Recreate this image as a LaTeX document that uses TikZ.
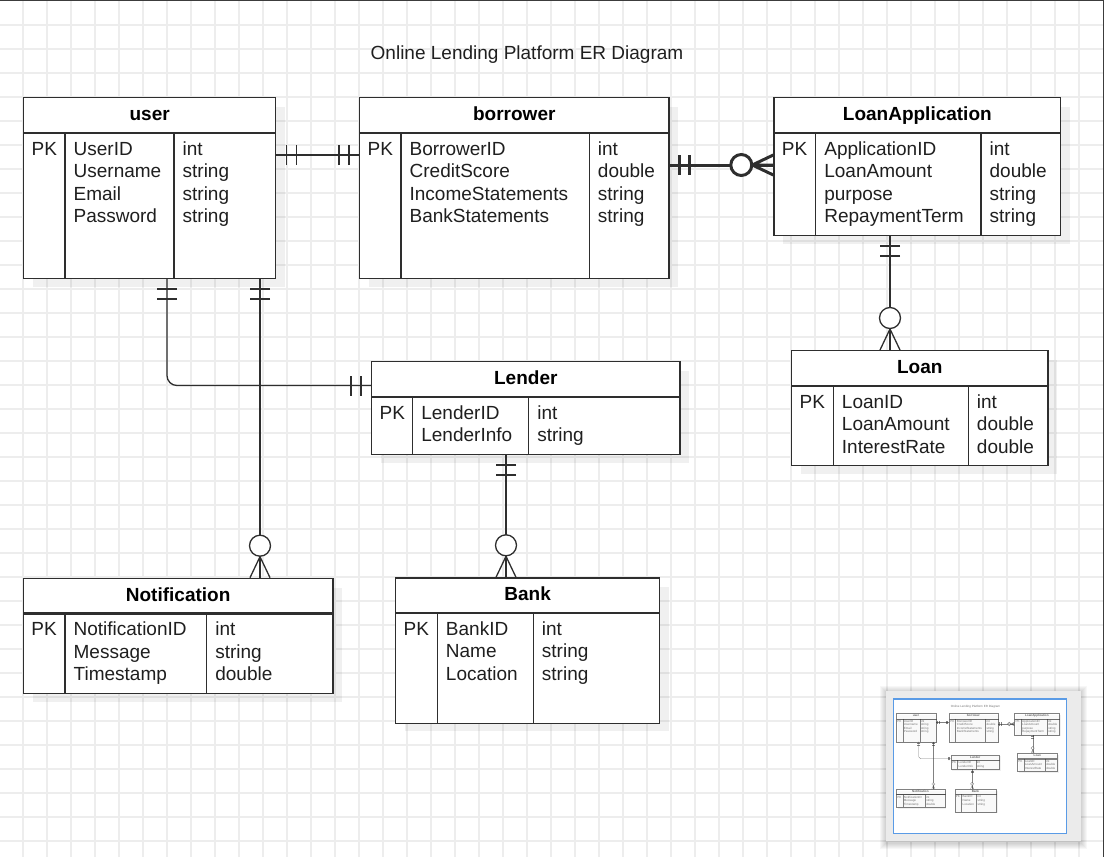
\documentclass[tikz,border=0pt]{standalone}
\usepackage{fontspec}
\setmainfont{Liberation Sans}

\definecolor{ink}{HTML}{2E2E2E}
\definecolor{txt}{HTML}{1F1F1F}
\definecolor{gridc}{HTML}{EDEDED}
\definecolor{frame}{HTML}{3C3C3C}
\definecolor{viewblue}{HTML}{5A9BE6}
\definecolor{panel}{HTML}{EBEBEB}

\newcommand{\erfont}{\fontsize{19pt}{22.5pt}\selectfont}

% entity: name, title, top left, width, body height, column 1, column 2, fields, types
\newcommand{\entity}[9]{
  \fill[ershadow] (#3) ++(10,10) rectangle ++(#4,34.5+#5);
  \node[hdr, minimum width=#4pt] (#1) at (#3) {#2};
  \node[ebody, minimum width=#4pt, minimum height=#5pt] (#1-b) at (#1.south west) {};
  \draw (#1-b.north west) ++(#6,0) -- ++(0,#5);
  \draw (#1-b.north west) ++(#7,0) -- ++(0,#5);
  \path (#1-b.north west) ++(8,22.3) node[fld] (#1-pk) {PK};
  \foreach \f [count=\i] in {#8}
    \path (#1-b.north west) ++(#6+8,22.5*\i-0.2) node[fld] (#1-f\i) {\f};
  \foreach \f [count=\i] in {#9}
    \path (#1-b.north west) ++(#7+8,22.5*\i-0.2) node[fld] (#1-t\i) {\f};
}

\tikzset{
  hdr/.style={draw, fill=white, anchor=north west, inner sep=0pt, minimum height=34.5pt,
    text height=14.5pt, text depth=3.5pt, font=\erfont\bfseries, text=black},
  ebody/.style={draw, fill=white, anchor=north west, inner sep=0pt},
  fld/.style={anchor=base west, inner sep=0pt, font=\erfont, text=txt},
  ershadow/.style={fill=black, opacity=0.06},
  % crow's foot ends, drawn from the entity edge outwards
  one/.pic={\draw (10,-10) -- (10,10) (20,-10) -- (20,10);},
  zmany/.pic={\draw (0,-10) -- (21,0) -- (0,10) (0,0) -- (21,0);
    \draw[fill=white] (32,0) circle[radius=10.5];},
  % the whole diagram, #1 = width of the heavy relation line
  lending/.pic={
    \node[font=\erfont, text=txt, anchor=base] (title) at (527,59.5) {Online Lending Platform ER Diagram};
    \entity{user}{user}{23,97}{252}{145}{42}{151}{UserID,Username,Email,Password}{int,string,string,string}
    \entity{borrower}{borrower}{359,97}{309.3}{145}{42}{230.3}{BorrowerID,CreditScore,IncomeStatements,BankStatements}{int,double,string,string}
    \entity{loanapp}{LoanApplication}{773.3,97}{286.7}{102}{42.4}{207.7}{ApplicationID,LoanAmount,purpose,RepaymentTerm}{int,double,string,string}
    \entity{loan}{Loan}{791,350}{256.3}{79}{42.3}{177.3}{LoanID,LoanAmount,InterestRate}{int,double,double}
    \entity{lender}{Lender}{371,361}{308.3}{57}{41.7}{157.7}{LenderID,LenderInfo}{int,string}
    \entity{bank}{Bank}{395,577.3}{264}{109.5}{42.3}{138.3}{BankID,Name,Location}{int,string,string}
    \entity{notif}{Notification}{22.7,577.7}{309.6}{79.4}{42.3}{184}{NotificationID,Message,Timestamp}{int,string,double}
    % relations
    \draw (user-b.east |- 0,155) -- (borrower-b.west |- 0,155);
    \pic at (user-b.east |- 0,155) {one};
    \pic[rotate=180] at (borrower-b.west |- 0,155) {one};
    \draw[line width=#1] (borrower-b.east |- 0,165) -- (loanapp-b.west |- 0,165);
    \pic[line width=#1] at (borrower-b.east |- 0,165) {one};
    \pic[line width=#1, rotate=180] at (loanapp-b.west |- 0,165) {zmany};
    \draw (loanapp-b.south -| 890,0) -- (loan.north -| 890,0);
    \pic[rotate=-90] at (loanapp-b.south -| 890,0) {one};
    \pic[rotate=90] at (loan.north -| 890,0) {zmany};
    \draw[rounded corners=3.3*#1] (user-b.south -| 167,0) |- (lender.west |- 0,385.5);
    \pic[rotate=-90] at (user-b.south -| 167,0) {one};
    \pic[rotate=180] at (lender.west |- 0,385.5) {one};
    \draw (user-b.south -| 260,0) -- (notif.north -| 260,0);
    \pic[rotate=-90] at (user-b.south -| 260,0) {one};
    \pic[rotate=90] at (notif.north -| 260,0) {zmany};
    \draw (lender-b.south -| 506,0) -- (bank.north -| 506,0);
    \pic[rotate=-90] at (lender-b.south -| 506,0) {one};
    \pic[rotate=90] at (bank.north -| 506,0) {zmany};
  }
}

\begin{document}
\begin{tikzpicture}[x=1pt, y=-1pt, line width=1.3pt, color=ink]
\useasboundingbox (0,0) rectangle (1104,857);
% page grid
\foreach \x in {23,47,...,1079} \draw[gridc, line width=1.2pt] (\x,0) -- (\x,857);
\foreach \y in {25,49,...,841} \draw[gridc, line width=1.2pt] (0,\y) -- (1104,\y);
\draw[frame, line width=1.5pt] (0,0.7) -- (1103.3,0.7) -- (1103.3,857);

\pic {lending=3pt};

% outline view
\foreach \d in {1,...,6} \fill[black, opacity=0.03] (886-\d,692-\d) rectangle (1080.7+\d,843+\d);
\fill[panel] (886,691) rectangle (1080.7,841);
\fill[white] (893.3,699) rectangle (1066.7,833.3);
\begin{scope}[shift={(892.4,698)}, scale=0.1576, transform shape, line width=0.3pt, opacity=0.6]
  \pic (mini-) {lending=0.6pt};
\end{scope}
\draw[viewblue, line width=1.5pt] (893.3,699) rectangle (1066.7,833.3);
\end{tikzpicture}
\end{document}
